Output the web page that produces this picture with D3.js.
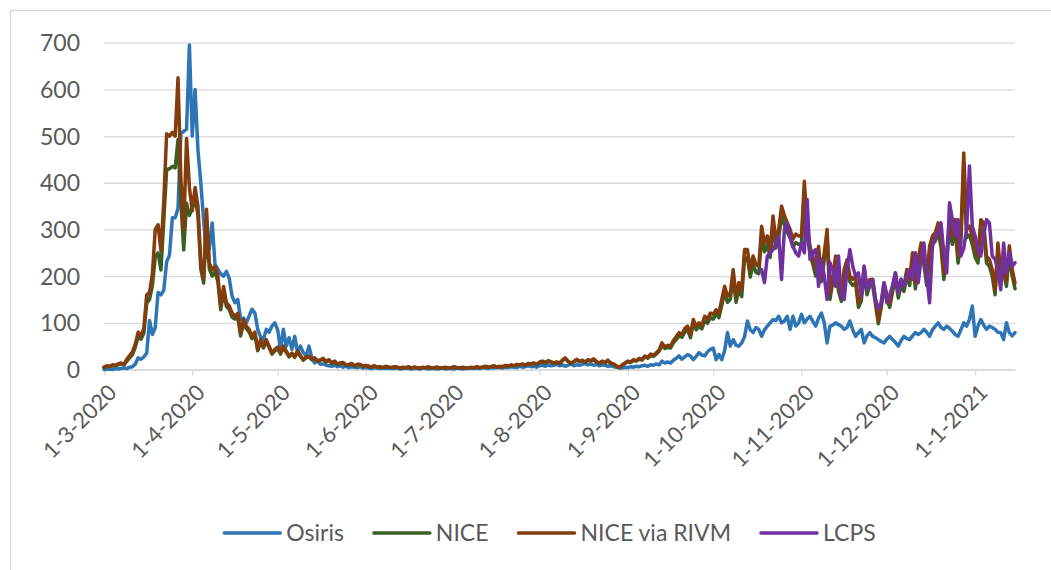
<!DOCTYPE html>
<html>
<head>
<meta charset="utf-8">
<script src="https://cdn.jsdelivr.net/npm/d3@7/dist/d3.min.js"></script>
<style>
  body { margin: 0; background: #fff; }
  svg text { font-family: Lato, "Open Sans", sans-serif; fill: #595959; }
</style>
</head>
<body>
<svg id="chart" width="1051" height="570"></svg>
<script>
/* daily values, first value is 1-3-2020 */
var startDate = Date.UTC(2020, 2, 1);
var endDate = Date.UTC(2021, 0, 15);

var osiris = [
  0, 0, 1, 0, 2, 1, 2, 3, 2, 5,
  6, 12, 25, 22, 27, 35, 105, 75, 90, 165,
  160, 170, 230, 245, 325, 325, 345, 505, 510, 515,
  695, 500, 600, 470, 400, 320, 240, 260, 314, 225,
  215, 205, 200, 210, 195, 157, 143, 150, 107, 110,
  100, 115, 129, 121, 86, 70, 64, 86, 80, 93,
  100, 85, 43, 86, 50, 68, 43, 71, 36, 50,
  36, 29, 50, 25, 14, 20, 11, 12, 9, 8,
  7, 9, 6, 8, 5, 7, 4, 6, 5, 4,
  6, 3, 4, 3, 2, 4, 3, 2, 3, 2,
  3, 2, 2, 3, 1, 2, 3, 2, 1, 2,
  2, 1, 3, 2, 1, 2, 2, 1, 2, 3,
  1, 2, 2, 1, 3, 2, 1, 2, 2, 3,
  2, 3, 2, 4, 3, 2, 4, 3, 5, 4,
  3, 5, 4, 6, 5, 4, 7, 5, 6, 8,
  6, 7, 5, 8, 9, 7, 10, 8, 9, 11,
  8, 10, 7, 9, 12, 8, 10, 9, 11, 13,
  10, 12, 9, 11, 8, 10, 9, 7, 8, 6,
  5, 4, 3, 5, 4, 6, 5, 7, 6, 8,
  9, 7, 10, 9, 12, 10, 18, 14, 16, 14,
  20, 24, 29, 22, 27, 32, 29, 21, 28, 36,
  31, 29, 38, 43, 46, 21, 32, 21, 40, 79,
  50, 64, 52, 50, 57, 70, 104, 85, 79, 90,
  86, 71, 85, 93, 100, 107, 105, 114, 100, 104,
  114, 86, 114, 93, 100, 118, 100, 108, 114, 103,
  93, 110, 121, 100, 57, 93, 95, 100, 96, 93,
  86, 90, 104, 85, 71, 79, 86, 57, 72, 79,
  71, 68, 64, 60, 57, 65, 71, 64, 58, 50,
  62, 71, 66, 64, 72, 79, 75, 79, 86, 80,
  71, 85, 93, 100, 90, 86, 93, 88, 82, 75,
  71, 85, 100, 93, 107, 136, 71, 93, 107, 95,
  86, 93, 90, 86, 80, 79, 64, 100, 79, 72, 79
];

var nice = [
  4, 6, 6, 8, 8, 10, 12, 10, 18, 25,
  32, 48, 70, 65, 78, 142, 150, 180, 242, 250,
  213, 320, 428, 430, 435, 432, 493, 360, 256, 356,
  330, 345, 370, 330, 215, 185, 320, 215, 200, 210,
  188, 128, 165, 135, 128, 112, 108, 112, 72, 100,
  88, 80, 66, 75, 40, 60, 46, 60, 47, 33,
  40, 45, 33, 47, 37, 27, 33, 26, 37, 28,
  20, 25, 27, 21, 23, 17, 20, 22, 16, 20,
  13, 17, 11, 13, 14, 9, 10, 12, 7, 10,
  10, 6, 8, 6, 5, 7, 5, 5, 4, 6,
  5, 4, 5, 5, 3, 4, 4, 5, 3, 5,
  4, 3, 4, 4, 5, 3, 4, 5, 3, 4,
  4, 3, 4, 5, 4, 3, 4, 4, 3, 4,
  4, 5, 4, 5, 6, 5, 6, 7, 5, 6,
  6, 8, 7, 9, 8, 10, 9, 11, 9, 12,
  11, 13, 10, 15, 16, 14, 18, 16, 13, 15,
  13, 19, 23, 17, 13, 16, 20, 17, 19, 15,
  20, 18, 21, 16, 13, 17, 14, 19, 13, 11,
  7, 4, 9, 13, 17, 15, 19, 18, 22, 20,
  27, 24, 30, 28, 33, 39, 52, 45, 48, 46,
  57, 64, 72, 69, 80, 85, 68, 98, 85, 92,
  87, 105, 99, 111, 108, 118, 111, 138, 164, 144,
  151, 197, 144, 171, 156, 237, 240, 198, 226, 208,
  205, 287, 252, 268, 240, 308, 260, 282, 328, 310,
  294, 282, 262, 272, 268, 270, 380, 290, 248, 225,
  200, 248, 188, 235, 282, 150, 188, 228, 168, 146,
  200, 220, 188, 180, 186, 133, 146, 207, 160, 180,
  180, 140, 98, 133, 174, 150, 133, 167, 193, 153,
  180, 167, 200, 180, 234, 173, 221, 254, 225, 180,
  247, 268, 275, 295, 262, 193, 235, 302, 268, 302,
  228, 272, 440, 282, 288, 268, 240, 228, 302, 295,
  228, 221, 200, 160, 254, 193, 207, 178, 248, 201, 173
];

var niceRivm = [
  5, 8, 7, 10, 9, 12, 14, 11, 22, 30,
  38, 55, 80, 72, 88, 160, 165, 205, 300, 310,
  255, 360, 505, 500, 508, 500, 625, 410, 300, 495,
  390, 340, 390, 350, 230, 195, 343, 228, 214, 221,
  200, 136, 178, 143, 136, 121, 114, 120, 78, 107,
  93, 86, 71, 80, 43, 64, 50, 64, 50, 36,
  43, 48, 36, 50, 40, 29, 35, 28, 40, 30,
  21, 27, 29, 22, 25, 18, 21, 24, 17, 21,
  14, 18, 12, 14, 15, 10, 11, 13, 8, 11,
  11, 7, 9, 7, 6, 8, 5, 6, 4, 7,
  5, 4, 6, 5, 3, 5, 4, 6, 3, 5,
  4, 3, 5, 4, 6, 3, 4, 5, 3, 4,
  5, 3, 4, 6, 4, 3, 5, 4, 3, 5,
  4, 6, 4, 5, 7, 5, 6, 8, 5, 7,
  6, 9, 7, 10, 8, 11, 10, 12, 9, 13,
  12, 14, 11, 16, 18, 15, 19, 17, 14, 16,
  14, 20, 25, 18, 14, 17, 22, 18, 20, 16,
  21, 19, 23, 17, 14, 18, 15, 20, 14, 12,
  8, 4, 10, 14, 18, 16, 21, 19, 24, 22,
  29, 26, 33, 30, 36, 42, 57, 48, 52, 50,
  62, 70, 79, 75, 88, 93, 75, 107, 93, 100,
  95, 114, 108, 121, 118, 128, 121, 150, 178, 157,
  164, 214, 157, 186, 170, 257, 257, 214, 243, 225,
  221, 307, 271, 286, 257, 329, 279, 300, 350, 330,
  314, 300, 279, 290, 286, 286, 403, 307, 264, 240,
  214, 264, 200, 250, 300, 164, 200, 243, 180, 157,
  214, 235, 200, 193, 200, 143, 157, 221, 171, 193,
  193, 150, 104, 143, 186, 160, 143, 179, 207, 164,
  193, 179, 214, 193, 250, 186, 236, 271, 240, 193,
  264, 286, 293, 314, 280, 207, 250, 321, 286, 321,
  243, 290, 464, 300, 307, 286, 257, 243, 321, 314,
  243, 236, 214, 171, 271, 207, 221, 190, 265, 215, 185
];

// LCPS starts at day 231 (18-10-2020)
var lcpsStartDay = 231;
var lcps = [
  214, 186, 243, 250, 257, 270, 286, 193, 300,
  314, 286, 264, 250, 243, 271, 250, 364, 236, 250,
  257, 178, 236, 200, 150, 229, 214, 178, 243, 157,
  150, 214, 257, 221, 200, 207, 157, 221, 171, 186,
  193, 150, 130, 143, 186, 143, 160, 179, 207, 164,
  193, 179, 200, 214, 193, 250, 186, 236, 271, 200,
  143, 264, 286, 293, 314, 250, 207, 357, 321, 286,
  321, 243, 260, 300, 436, 307, 286, 257, 243, 290,
  321, 314, 243, 236, 214, 171, 271, 207, 250, 221, 229
];

var seriesNames = ["Osiris", "NICE", "NICE via RIVM", "LCPS"];
var seriesColors = ["#2E75B6", "#3A5F24", "#843C0C", "#7030A0"];
var yTicks = [0, 100, 200, 300, 400, 500, 600, 700];
var monthTicks = [
  [2020, 2], [2020, 3], [2020, 4], [2020, 5], [2020, 6], [2020, 7],
  [2020, 8], [2020, 9], [2020, 10], [2020, 11], [2021, 0]
];

/* ========================================================================== */

var svg = d3.select("#chart");

var plotLeft = 104, plotRight = 1015, plotTop = 42.7, plotBottom = 369.5;

// chart border (only top and left edge are inside the picture)
svg.append("path")
    .attr("d", "M10.5,580 L10.5,10.5 L1060,10.5")
    .attr("fill", "none")
    .attr("stroke", "#D9D9D9")
    .attr("stroke-width", 1.3);

var x = d3.scaleUtc()
    .domain([new Date(startDate), new Date(endDate)])
    .range([plotLeft, plotRight]);

var y = d3.scaleLinear()
    .domain([0, 700])
    .range([plotBottom, plotTop]);

function dayDate (i) {
    return d3.utcDay.offset(new Date(startDate), i);
}

// y axis with gridlines
var yAxis = svg.append("g")
    .attr("transform", "translate(" + plotLeft + ",0)")
    .call(d3.axisLeft(y)
        .tickValues(yTicks)
        .tickSize(-(plotRight - plotLeft))
        .tickPadding(24));

yAxis.select(".domain").remove();
yAxis.selectAll(".tick line")
    .attr("stroke", "#D9D9D9")
    .attr("stroke-width", 1.3);
yAxis.selectAll(".tick text")
    .style("font-size", "23px")
    .attr("dy", "0.35em");

// x axis
var xAxis = svg.append("g")
    .attr("transform", "translate(0," + plotBottom + ")")
    .call(d3.axisBottom(x)
        .tickValues(monthTicks.map(function (m) { return new Date(Date.UTC(m[0], m[1], 1)); }))
        .tickSize(6)
        .tickSizeOuter(0)
        .tickFormat(function (d) {
            return d.getUTCDate() + "-" + (d.getUTCMonth() + 1) + "-" + d.getUTCFullYear();
        }));

xAxis.select(".domain")
    .attr("stroke", "#D9D9D9")
    .attr("stroke-width", 1.3);
xAxis.selectAll(".tick line")
    .attr("stroke", "#D9D9D9")
    .attr("stroke-width", 1.3);
xAxis.selectAll(".tick text")
    .style("font-size", "22px")
    .attr("text-anchor", "end")
    .attr("dy", "0.35em")
    .attr("transform", "translate(8,19) rotate(-45)")
    .attr("y", 0)
    .attr("x", 0);

// lines
var line = d3.line()
    .x(function (d) { return x(d.date); })
    .y(function (d) { return y(d.value); });

function toPoints (values, offset) {
    return values.map(function (v, i) {
        return { date: dayDate(i + offset), value: v };
    });
}

var allSeries = [
    toPoints(osiris, 0),
    toPoints(nice, 0),
    toPoints(niceRivm, 0),
    toPoints(lcps, lcpsStartDay)
];

allSeries.forEach(function (pts, i) {
    svg.append("path")
        .datum(pts)
        .attr("fill", "none")
        .attr("stroke", seriesColors[i])
        .attr("stroke-width", 3.5)
        .attr("stroke-linejoin", "round")
        .attr("stroke-linecap", "round")
        .attr("d", line);
});

// legend
var legend = svg.append("g").attr("transform", "translate(0,533)");
var sampleLen = 56, gapText = 6, gapItem = 30;
var items = legend.selectAll("g.item")
    .data(seriesNames)
    .enter().append("g")
    .attr("class", "item");

items.append("line")
    .attr("x1", 0).attr("x2", sampleLen)
    .attr("y1", 0).attr("y2", 0)
    .attr("stroke", function (d, i) { return seriesColors[i]; })
    .attr("stroke-width", 3.5)
    .attr("stroke-linecap", "round");

items.append("text")
    .attr("x", sampleLen + gapText)
    .attr("dy", "0.35em")
    .style("font-size", "23px")
    .text(function (d) { return d; });

var xPos = 0;
var widths = [];
items.each(function () {
    var w = sampleLen + gapText + d3.select(this).select("text").node().getComputedTextLength();
    widths.push(w);
});
var total = d3.sum(widths) + gapItem * (widths.length - 1);
var startX = 550 - total / 2;
items.attr("transform", function (d, i) {
    var t = "translate(" + (startX + xPos) + ",0)";
    xPos += widths[i] + gapItem;
    return t;
});
</script>
</body>
</html>
